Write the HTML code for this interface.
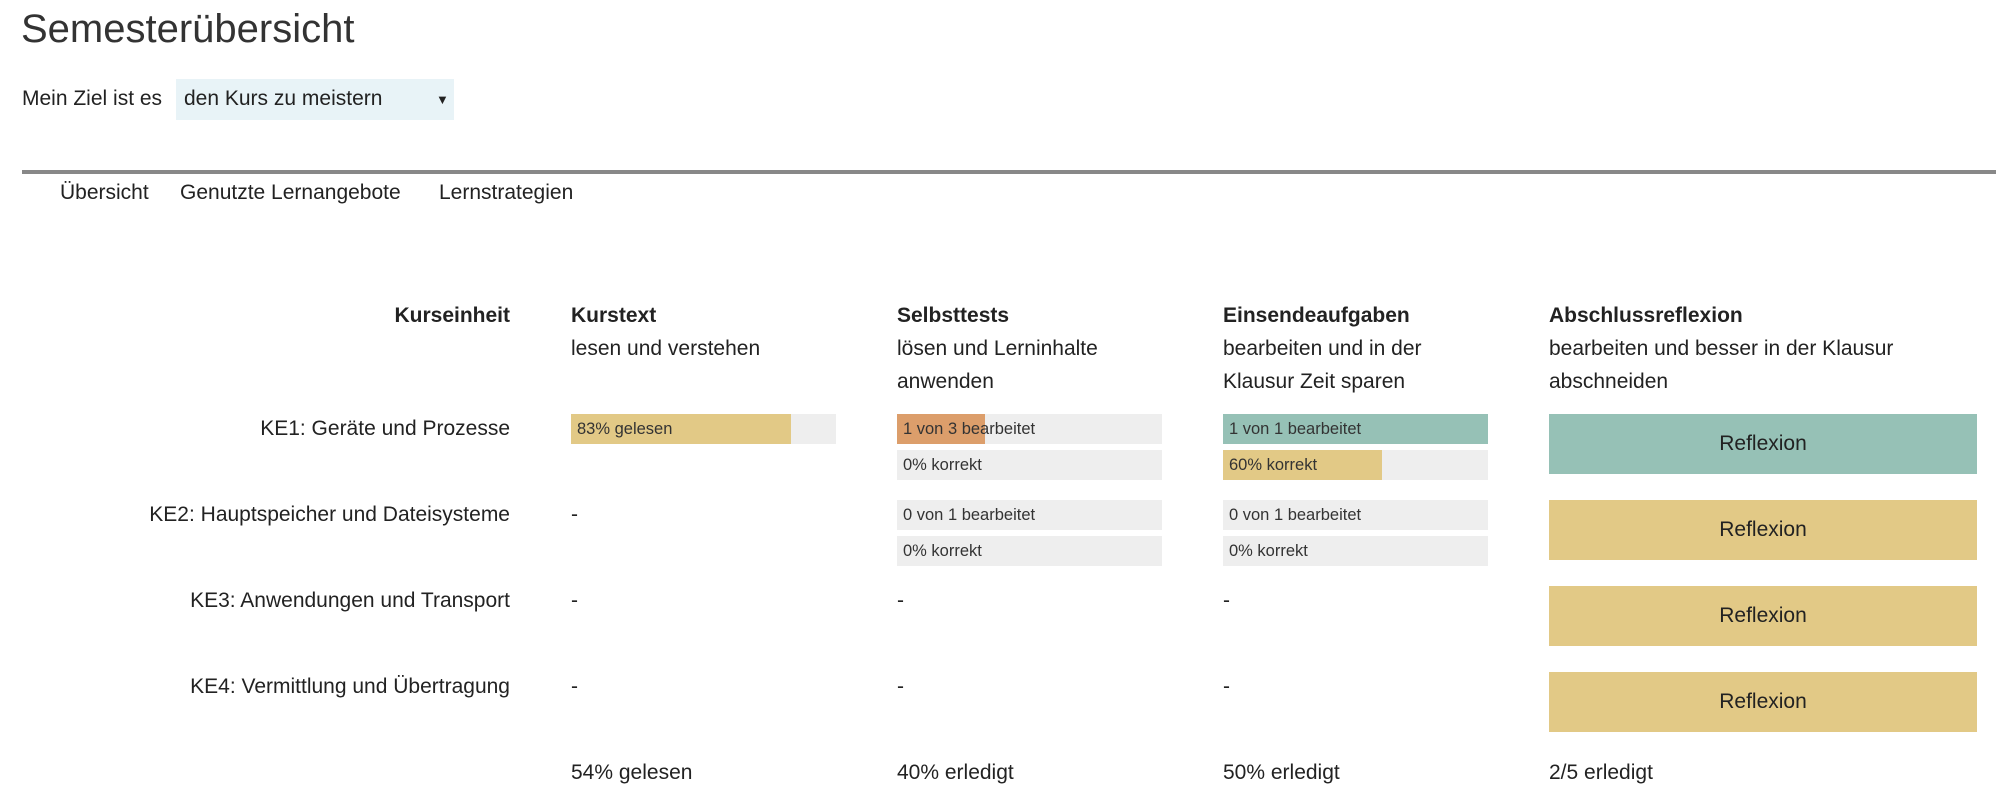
<!DOCTYPE html>
<html><head><meta charset="utf-8">
<style>
body{margin:0;width:1996px;height:800px;background:#fff;font-family:"Liberation Sans",sans-serif;color:#222;position:relative;overflow:hidden}
.a{position:absolute;white-space:nowrap}
.t{font-size:21px;line-height:20px}
.b{font-weight:bold}
.bar{position:absolute;background:#eeeeee;height:30px;width:265px}
.fill{position:absolute;left:0;top:0;height:100%}
.bl{position:absolute;left:6px;top:0;line-height:31px;font-size:16.5px;color:#333}
.refl{position:absolute;left:1549px;width:428px;height:60px;line-height:60px;text-align:center;font-size:21px;color:#222}
</style></head><body>
<div class="a" style="left:21px;top:7px;font-size:40px;font-weight:300;color:#333">Semesterübersicht</div>
<div class="a t" style="left:22px;top:89px">Mein Ziel ist es</div>
<div class="a" style="left:176px;top:79px;width:278px;height:41px;background:#e8f3f7">
<span class="a t" style="left:8px;top:10px">den Kurs zu meistern</span>
<span class="a" style="left:260px;top:13px;font-size:13px">▼</span></div>
<div class="a" style="left:22px;top:170px;width:1974px;height:4px;background:#888"></div>
<div class="a t" style="left:60px;top:183px">Übersicht</div>
<div class="a t" style="left:180px;top:183px">Genutzte Lernangebote</div>
<div class="a t" style="left:439px;top:183px">Lernstrategien</div>

<div class="a t b" style="right:1486px;top:306px">Kurseinheit</div>
<div class="a t" style="left:571px;top:306px;line-height:33px;margin-top:-7px"><b>Kurstext</b><br>lesen und verstehen</div>
<div class="a t" style="left:897px;top:306px;line-height:33px;margin-top:-7px"><b>Selbsttests</b><br>lösen und Lerninhalte<br>anwenden</div>
<div class="a t" style="left:1223px;top:306px;line-height:33px;margin-top:-7px"><b>Einsendeaufgaben</b><br>bearbeiten und in der<br>Klausur Zeit sparen</div>
<div class="a t" style="left:1549px;top:306px;line-height:33px;margin-top:-7px"><b>Abschlussreflexion</b><br>bearbeiten und besser in der Klausur<br>abschneiden</div>

<div id="rows"></div>

<div class="a t" style="left:571px;top:763px">54% gelesen</div>
<div class="a t" style="left:897px;top:763px">40% erledigt</div>
<div class="a t" style="left:1223px;top:763px">50% erledigt</div>
<div class="a t" style="left:1549px;top:763px">2/5 erledigt</div>

<script>
const units=["KE1: Geräte und Prozesse","KE2: Hauptspeicher und Dateisysteme","KE3: Anwendungen und Transport","KE4: Vermittlung und Übertragung"];
const readPct=[83,null,null,null];
const testsDone=[1,0,null,null];
const testsTotal=[3,1,null,null];
const testsCorrect=[0,0,null,null];
const esaDone=[1,0,null,null];
const esaTotal=[1,1,null,null];
const esaCorrect=[60,0,null,null];
const reflDone=[true,false,false,false];
const rowTop=[414,500,586,672];
const root=document.getElementById('rows');
const YEL='#e2c986',ORA='#dc9e6b',TEAL='#96c1b6';
function bar(x,y,pct,color,label,name){
  const b=document.createElement('div');b.className='bar';
  
  
  b.style.left=x+'px';b.style.top=y+'px';
  const f=document.createElement('div');f.className='fill';
  f.style.width=Math.max(0,Math.min(100,pct))+'%';f.style.background=color;
  b.appendChild(f);
  const l=document.createElement('div');l.className='bl';l.textContent=label;b.appendChild(l);
  root.appendChild(b);
}
function txt(x,y,s,name,right){
  const d=document.createElement('div');d.className='a t';
  
  
  if(right){d.style.right=x+'px';}else d.style.left=x+'px';
  d.style.top=y+'px';d.textContent=s;root.appendChild(d);
}
units.forEach((u,i)=>{
  const y=rowTop[i];
  txt(1486,y+5,u,'unit-label',true);
  if(readPct[i]!=null) bar(571,y,readPct[i],YEL,readPct[i]+'% gelesen','kurstext-bar'); else txt(571,y+5,'-','kurstext-empty');
  if(testsTotal[i]!=null){
    const p=testsDone[i]/testsTotal[i]*100;
    bar(897,y,p,p>=100?TEAL:ORA,testsDone[i]+' von '+testsTotal[i]+' bearbeitet','selbsttests-progress-bar');
    bar(897,y+36,testsCorrect[i],YEL,testsCorrect[i]+'% korrekt','selbsttests-correct-bar');
  } else txt(897,y+5,'-','selbsttests-empty');
  if(esaTotal[i]!=null){
    const p=esaDone[i]/esaTotal[i]*100;
    bar(1223,y,p,p>=100?TEAL:ORA,esaDone[i]+' von '+esaTotal[i]+' bearbeitet','einsende-progress-bar');
    bar(1223,y+36,esaCorrect[i],YEL,esaCorrect[i]+'% korrekt','einsende-correct-bar');
  } else txt(1223,y+5,'-','einsende-empty');
  const r=document.createElement('div');r.className='refl';
  
  
  r.style.top=y+'px';r.style.background=reflDone[i]?TEAL:YEL;r.textContent='Reflexion';
  root.appendChild(r);
});
</script>
</body></html>
